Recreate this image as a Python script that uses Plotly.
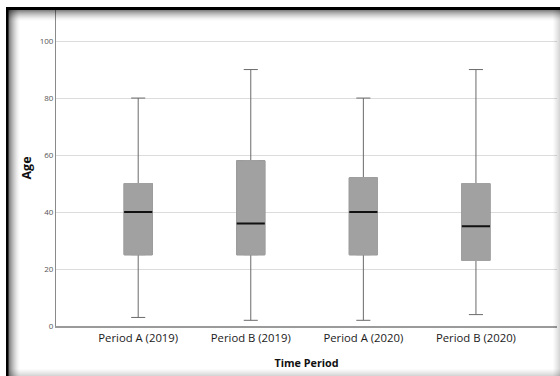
import plotly.graph_objects as go

categories = ["Period A (2019)", "Period B (2019)", "Period A (2020)", "Period B (2020)"]
lower_whisker = [3, 2, 2, 4]
q1 = [25, 25, 25, 23]
median = [40, 36, 40, 35]
q3 = [50, 58, 52, 50]
upper_whisker = [80, 90, 80, 90]
y_ticks = [0, 20, 40, 60, 80, 100]

W, H = 560, 376
L, R, T, B = 56, 3, 10, 50
PW, PH = W - L - R, H - T - B

FILL = "#a1a1a1"

fig = go.Figure()
common = dict(x=categories, width=0.25, whiskerwidth=0.5, hoverinfo="skip", showlegend=False)
# full box with whiskers
fig.add_trace(go.Box(q1=q1, median=median, q3=q3, lowerfence=lower_whisker,
                     upperfence=upper_whisker, fillcolor=FILL,
                     line=dict(color="#6a6a6a", width=1), **common))
# hide box outline
fig.add_trace(go.Box(q1=q1, median=q1, q3=q3, lowerfence=q1, upperfence=q3,
                     fillcolor=FILL, line=dict(color=FILL, width=1), **common))
# median line
fig.add_trace(go.Box(q1=median, median=median, q3=median, lowerfence=median,
                     upperfence=median, fillcolor="#111111",
                     line=dict(color="#111111", width=2), **common))


def px_x(p):
    return (p - L) / PW


def px_y(p):
    return (H - B - p) / PH


shapes = []
# frame shadow (top and left dark, right and bottom light)
n = 12
for i in range(n):
    a = 0.55 * (1 - i / n) ** 1.6
    shapes.append(dict(type="rect", xref="paper", yref="paper", layer="above",
                       x0=px_x(8), x1=px_x(W), y0=px_y(9 + i + 1), y1=px_y(9 + i),
                       fillcolor=f"rgba(0,0,0,{a:.3f})", line=dict(width=0)))
    shapes.append(dict(type="rect", xref="paper", yref="paper", layer="above",
                       x0=px_x(8 + i), x1=px_x(8 + i + 1), y0=px_y(H), y1=px_y(9),
                       fillcolor=f"rgba(0,0,0,{a:.3f})", line=dict(width=0)))
m = 7
for i in range(m):
    a = 0.16 * ((i + 1) / m) ** 1.2
    shapes.append(dict(type="rect", xref="paper", yref="paper", layer="above",
                       x0=px_x(W - m + i), x1=px_x(W - m + i + 1), y0=px_y(H), y1=px_y(9),
                       fillcolor=f"rgba(0,0,0,{a:.3f})", line=dict(width=0)))
    shapes.append(dict(type="rect", xref="paper", yref="paper", layer="above",
                       x0=px_x(8), x1=px_x(W), y0=px_y(H - m + i + 1), y1=px_y(H - m + i),
                       fillcolor=f"rgba(0,0,0,{a:.3f})", line=dict(width=0)))
# black edges
shapes.append(dict(type="rect", xref="paper", yref="paper", layer="above",
                   x0=px_x(7), x1=px_x(W), y0=px_y(10), y1=px_y(7),
                   fillcolor="#000000", line=dict(width=0)))
shapes.append(dict(type="rect", xref="paper", yref="paper", layer="above",
                   x0=px_x(6), x1=px_x(8.5), y0=px_y(H), y1=px_y(7),
                   fillcolor="#000000", line=dict(width=0)))

fig.update_layout(
    width=W, height=H,
    margin=dict(l=L, r=R, t=T, b=B, autoexpand=False),
    paper_bgcolor="white", plot_bgcolor="white",
    boxmode="overlay",
    font=dict(family="Open Sans, sans-serif", color="#222"),
    shapes=shapes,
    xaxis=dict(
        range=[-0.73, 3.72], showgrid=False, showline=True, linecolor="#9a9a9a",
        linewidth=2, ticks="", tickfont=dict(size=11.3, color="#1a1a1a"),
        title=dict(text="<b>Time Period</b>", font=dict(size=10.8, color="#111"), standoff=16),
        fixedrange=True,
    ),
    yaxis=dict(
        range=[0, 110.9], tickvals=y_ticks, showgrid=True, gridcolor="#dcdcdc",
        gridwidth=1, showline=True, linecolor="#8a8a8a", linewidth=1, zeroline=False,
        ticks="", ticklabelstandoff=0, tickfont=dict(size=8, color="#555555"),
        title=dict(text="<b>Age</b>", font=dict(size=12.5, color="#111"), standoff=5),
        fixedrange=True,
    ),
)

fig.write_html(
    "out.html",
    config={"displayModeBar": False},
    post_script="document.body.style.margin='0';document.body.style.overflow='hidden';",
)
